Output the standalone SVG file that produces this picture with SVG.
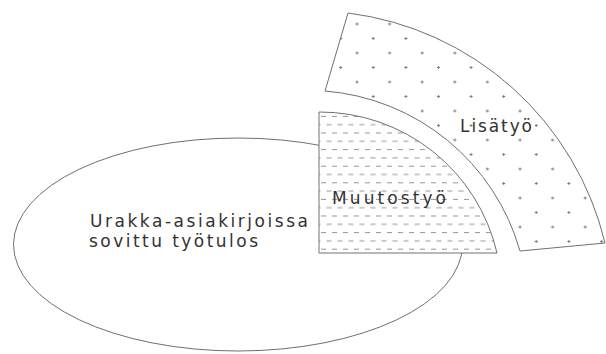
<svg xmlns="http://www.w3.org/2000/svg" width="606" height="354" viewBox="0 0 606 354">
<style>
.edge{fill:none;stroke:#707070;stroke-width:1}
.lbl{font-family:"DejaVu Sans","Liberation Sans",sans-serif;font-size:17px;fill:#333333}
.mark{stroke:#7a7a7a;stroke-width:1;fill:none}
.dash{stroke:#949494;stroke-width:1;fill:none}
</style>
<defs>
<pattern id="plusDots" patternUnits="userSpaceOnUse" x="349" y="17" width="32.6" height="29">
<path class="mark" d="M6.5,7H9.5M8,5.5V8.5M22.8,21.5H25.8M24.3,20V23"/>
</pattern>
<pattern id="hDash" patternUnits="userSpaceOnUse" x="319" y="112" width="11" height="16.6">
<path class="dash" d="M2,4.5H7M7.5,12.8H12.5M-3.5,12.8H1.5"/>
</pattern>
</defs>
<rect width="606" height="354" fill="#ffffff"/>
<g id="connectors"/>
<g id="urakka">
<ellipse class="edge" cx="238" cy="244.5" rx="224.5" ry="106.5" fill="#ffffff"/>
<text class="lbl" x="90" y="227" textLength="218" lengthAdjust="spacing">Urakka-asiakirjoissa</text>
<text class="lbl" x="89" y="247" textLength="169" lengthAdjust="spacing">sovittu työtulos</text>
</g>
<g id="muutostyo">
<path d="M319,112 A182,182 0 0 1 497,253 L319,253 Z" fill="#ffffff"/>
<path d="M319,112 A182,182 0 0 1 497,253 L319,253 Z" fill="url(#hDash)"/>
<path class="edge" d="M319,112 A182,182 0 0 1 497,253 L319,253 Z"/>
<text class="lbl" x="332" y="204" textLength="114" lengthAdjust="spacing">Muutostyö</text>
</g>
<g id="lisatyo">
<path d="M348,13 A303,303 0 0 1 605,243 L520,251 A221,221 0 0 0 325,91 Z" fill="#ffffff"/>
<path d="M348,13 A303,303 0 0 1 605,243 L520,251 A221,221 0 0 0 325,91 Z" fill="url(#plusDots)"/>
<path class="edge" d="M348,13 A303,303 0 0 1 605,243 L520,251 A221,221 0 0 0 325,91 Z"/>
<text class="lbl" x="460" y="132" textLength="72" lengthAdjust="spacing">Lisätyö</text>
</g>
</svg>
